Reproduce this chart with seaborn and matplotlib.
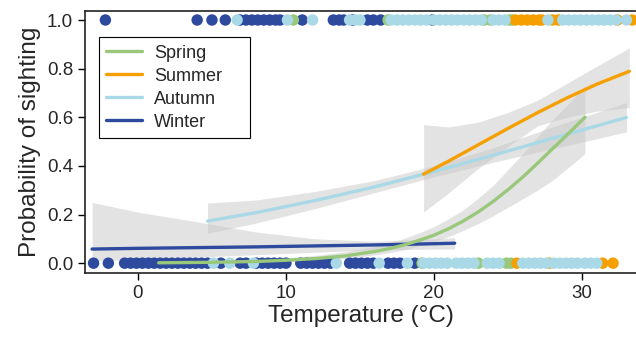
import numpy as np
import pandas as pd
import matplotlib.pyplot as plt
import seaborn as sns

sns.set_style("ticks")
plt.rcParams['font.family'] = ['Liberation Sans', 'DejaVu Sans']

seasons = ['Spring', 'Summer', 'Autumn', 'Winter']
colors = {'Spring': '#99C87B', 'Summer': '#F5A000', 'Autumn': '#A9D8E6', 'Winter': '#2E4A9E'}

# observed sightings (temperature, 0 = not seen / 1 = seen)
winter_seen = [-2.2, 4.0, 5.0, 5.9, 6.9, 7.3, 7.7, 8.1, 8.5, 8.9, 9.3, 9.6, 11.1, 13.2, 13.6,
               13.9, 14.5, 15.5, 15.9, 16.4, 19.9]
winter_not = [-3.0, -2.0, -0.9, -0.5, -0.1, 0.3, 0.7, 1.1, 1.5, 1.9, 2.3, 2.7, 3.1, 3.5, 3.9,
              4.3, 4.7, 5.6, 6.9, 7.3, 8.0, 8.4, 8.8, 9.2, 9.6, 10.0, 11.0, 11.4, 11.8, 12.2,
              12.6, 13.0, 14.3, 14.7, 15.1, 15.5, 15.9, 16.9, 17.3, 17.7, 18.7]
spring_seen = [10.5, 16.9, 23.4, 23.8, 25.1, 25.3]
spring_not = [19.2, 23.0, 24.9, 25.2]
summer_seen = [25.5, 25.9, 26.3, 26.7, 27.1, 27.3, 28.0, 28.4, 32.4, 33.4]
summer_not = [25.6, 27.8, 31.4, 32.1]
autumn_seen = [6.7, 10.1, 11.8, 14.3, 14.7, 15.0, 17.1, 17.5, 17.9, 18.3, 18.7, 19.1, 19.5,
               20.0, 20.4, 20.8, 21.2, 21.6, 22.0, 22.4, 22.8, 23.2, 24.0, 24.4, 24.8, 27.7,
               28.7, 29.1, 29.5, 29.9, 30.3, 30.7, 31.1, 31.5, 31.9, 32.3, 33.0]
autumn_not = [5.1, 6.2, 7.8, 13.4, 16.3, 18.2, 19.3, 19.7, 20.1, 20.5, 20.9, 21.5, 21.9, 22.3,
              22.7, 23.6, 24.0, 24.4, 26.0, 26.4, 26.8, 27.2, 27.6, 28.1, 28.5, 28.9, 29.3,
              29.7, 30.2, 30.6, 31.0]

# fitted probability curves and confidence bands
spring_x = [1.4, 5, 8, 10, 12, 14, 16, 17, 18, 19, 20, 21, 22, 23, 24, 25, 26, 27, 28, 29, 30.2]
spring_p = [0.0015, 0.0035, 0.007, 0.012, 0.019, 0.030, 0.048, 0.060, 0.075, 0.094, 0.115,
            0.142, 0.174, 0.211, 0.254, 0.302, 0.354, 0.411, 0.470, 0.528, 0.60]
spring_lo = [0.0005, 0.001, 0.003, 0.006, 0.011, 0.019, 0.034, 0.043, 0.055, 0.071, 0.088,
             0.110, 0.135, 0.163, 0.195, 0.230, 0.265, 0.30, 0.34, 0.39, 0.45]
spring_hi = [0.004, 0.008, 0.014, 0.022, 0.032, 0.047, 0.069, 0.083, 0.102, 0.125, 0.15,
             0.183, 0.22, 0.268, 0.32, 0.385, 0.45, 0.52, 0.59, 0.65, 0.73]

summer_x = [19.3, 21, 23, 25, 27, 29, 31, 33.2]
summer_p = [0.366, 0.420, 0.487, 0.554, 0.619, 0.680, 0.736, 0.789]
summer_lo = [0.21, 0.29, 0.39, 0.48, 0.565, 0.60, 0.625, 0.64]
summer_hi = [0.57, 0.56, 0.58, 0.62, 0.67, 0.74, 0.81, 0.885]

autumn_x = [4.7, 8, 12, 16, 20, 24, 28, 33]
autumn_p = [0.173, 0.208, 0.258, 0.314, 0.377, 0.444, 0.513, 0.599]
autumn_lo = [0.123, 0.165, 0.225, 0.290, 0.355, 0.415, 0.470, 0.54]
autumn_hi = [0.247, 0.26, 0.295, 0.340, 0.40, 0.475, 0.56, 0.66]

winter_x = [-3.1, 0, 4, 8, 12, 16, 20, 21.4]
winter_p = [0.058, 0.061, 0.064, 0.067, 0.071, 0.075, 0.080, 0.082]
winter_lo = [0.01, 0.015, 0.025, 0.035, 0.045, 0.055, 0.058, 0.058]
winter_hi = [0.25, 0.21, 0.17, 0.128, 0.10, 0.09, 0.10, 0.105]

obs = {'Winter': (winter_seen, winter_not), 'Spring': (spring_seen, spring_not),
       'Summer': (summer_seen, summer_not), 'Autumn': (autumn_seen, autumn_not)}
fits = {'Spring': (spring_x, spring_p, spring_lo, spring_hi),
        'Summer': (summer_x, summer_p, summer_lo, summer_hi),
        'Autumn': (autumn_x, autumn_p, autumn_lo, autumn_hi),
        'Winter': (winter_x, winter_p, winter_lo, winter_hi)}

rows = []
for s in ['Winter', 'Spring', 'Summer', 'Autumn']:
    seen, notseen = obs[s]
    rows += [(s, t, 0) for t in notseen] + [(s, t, 1) for t in seen]
pts = pd.DataFrame(rows, columns=['season', 'temp', 'sighted'])

fig, ax = plt.subplots(figsize=(6.36, 3.44), dpi=100)
fig.subplots_adjust(left=0.1336, right=1.0, top=0.968, bottom=0.206)

# confidence bands
for s in ['Winter', 'Autumn', 'Spring', 'Summer']:
    x, p, lo, hi = fits[s]
    ax.fill_between(x, lo, hi, color='#C8C8C8', alpha=0.5, lw=0, zorder=1)

sns.scatterplot(data=pts, x='temp', y='sighted', hue='season', palette=colors,
                s=68, linewidth=0, alpha=1, legend=False, ax=ax, zorder=2)

for s in ['Winter', 'Autumn', 'Spring', 'Summer']:
    x, p, lo, hi = fits[s]
    sns.lineplot(x=x, y=p, color=colors[s], lw=2.4, label=s, ax=ax, zorder=3)

handles, labels = ax.get_legend_handles_labels()
hmap = dict(zip(labels, handles))
leg = ax.legend([hmap[s] for s in seasons], seasons, loc='upper left',
                bbox_to_anchor=(0.025, 0.50, 0.274, 0.40), mode='expand',
                borderaxespad=0, fontsize=13,
                fancybox=False, framealpha=1, edgecolor='black',
                handlelength=2.0, handletextpad=0.65, borderpad=0.42, labelspacing=0.33)
leg.get_frame().set_linewidth(0.8)

ax.set_xlim(-3.58, 33.65)
ax.set_ylim(-0.041, 1.037)
ax.set_xticks([0, 10, 20, 30])
ax.set_yticks([0, 0.2, 0.4, 0.6, 0.8, 1.0])
ax.set_yticklabels(['0.0', '0.2', '0.4', '0.6', '0.8', '1.0'])
ax.tick_params(direction='out', length=5, width=1, labelsize=13.5, color='black')
ax.set_xlabel('Temperature (°C)', fontsize=17.5, labelpad=2)
ax.set_ylabel('Probability of sighting', fontsize=17.5, labelpad=4)
for side in ['left', 'bottom', 'top']:
    ax.spines[side].set_linewidth(1.2)
    ax.spines[side].set_color('#222222')
ax.spines['right'].set_visible(False)

plt.savefig('out.png', dpi=100)
